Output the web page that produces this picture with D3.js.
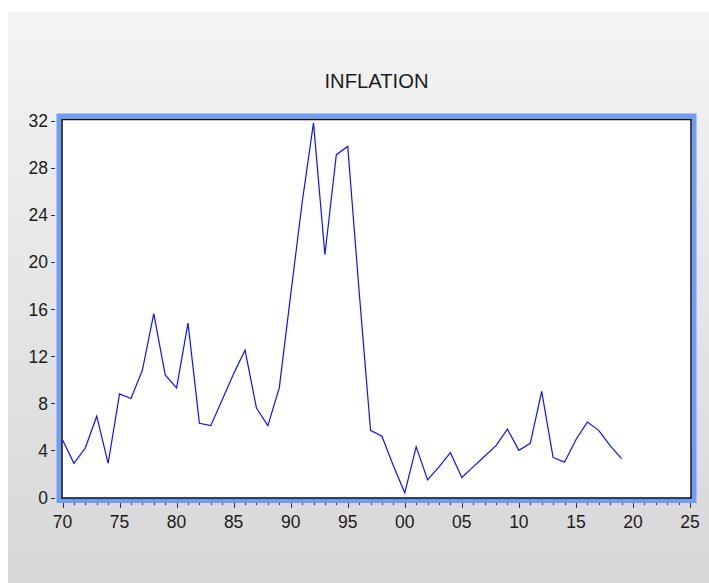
<!DOCTYPE html>
<html>
<head>
<meta charset="utf-8">
<script src="https://cdn.jsdelivr.net/npm/d3@7"></script>
<style>
  body { margin: 0; background: #fff; }
  svg { display: block; }
</style>
</head>
<body>
<div id="chart"></div>
<script>
// annual inflation, 1970 - 2019
const years = d3.range(1970, 2020);
const inflation = [
  4.9, 2.9, 4.2, 6.9, 2.9, 8.8, 8.4, 10.8, 15.6, 10.4,
  9.3, 14.8, 6.3, 6.1, 8.3, 10.5, 12.5, 7.6, 6.1, 9.3,
  17.2, 25.0, 31.8, 20.6, 29.1, 29.8, 17.5, 5.7, 5.2, 2.7,
  0.4, 4.3, 1.5, 2.6, 3.8, 1.7, 2.6, 3.5, 4.4, 5.8,
  4.0, 4.6, 9.0, 3.4, 3.0, 4.9, 6.4, 5.7, 4.4, 3.3
];
const yTicks = [0, 4, 8, 12, 16, 20, 24, 28, 32];
const xTicks = d3.range(1970, 2026, 5);
const title = "INFLATION";

const width = 709, height = 583;
const font = "'Liberation Sans', Arial, sans-serif";

const svg = d3.select("#chart").append("svg")
  .attr("width", width).attr("height", height);

// grey panel background
const grad = svg.append("defs").append("linearGradient")
  .attr("id", "bg").attr("x1", 0).attr("y1", 0).attr("x2", 0).attr("y2", 1);
grad.append("stop").attr("offset", "0%").attr("stop-color", "#f4f4f4");
grad.append("stop").attr("offset", "100%").attr("stop-color", "#d7d7d7");
svg.append("rect")
  .attr("x", 8).attr("y", 12)
  .attr("width", width - 8).attr("height", height - 12)
  .attr("fill", "url(#bg)");

// plot area
const pLeft = 62, pRight = 691, pTop = 120, pBottom = 497.5;

const x = d3.scaleLinear().domain([1970, 2025]).range([pLeft + 0.5, pRight - 1]);
const y = d3.scaleLinear().domain([0, 32]).range([pBottom, pTop + 0.5]);

// light blue frame, then white plot with black border
svg.append("rect")
  .attr("x", pLeft - 3).attr("y", pTop - 4)
  .attr("width", pRight - pLeft + 6).attr("height", pBottom - pTop + 7)
  .attr("fill", "none").attr("stroke", "#6f9ef8").attr("stroke-width", 5);
svg.append("rect")
  .attr("x", pLeft).attr("y", pTop - 0.5)
  .attr("width", pRight - pLeft).attr("height", pBottom - pTop + 1)
  .attr("fill", "#fff").attr("stroke", "#111").attr("stroke-width", 1.5);

// y axis ticks + labels
const gy = svg.append("g");
gy.selectAll("line").data(yTicks).join("line")
  .attr("x1", 51).attr("x2", 55)
  .attr("y1", d => Math.round(y(d)) + 0.5).attr("y2", d => Math.round(y(d)) + 0.5)
  .attr("stroke", "#333").attr("stroke-width", 1);
gy.selectAll("text").data(yTicks).join("text")
  .attr("x", 48).attr("y", d => y(d) + 6.5)
  .attr("text-anchor", "end")
  .attr("font-family", font).attr("font-size", 17.5)
  .attr("fill", "#1c1c1c")
  .text(d => d);

// x axis: major ticks every 5 years, minor dots every year
const gx = svg.append("g");
gx.selectAll("line.minor").data(d3.range(1970, 2026).filter(d => d % 5 !== 0)).join("line")
  .attr("class", "minor")
  .attr("x1", d => Math.round(x(d)) + 0.5).attr("x2", d => Math.round(x(d)) + 0.5)
  .attr("y1", 503).attr("y2", 505)
  .attr("stroke", "#333");
gx.selectAll("line.major").data(xTicks).join("line")
  .attr("class", "major")
  .attr("x1", d => Math.round(x(d)) + 0.5).attr("x2", d => Math.round(x(d)) + 0.5)
  .attr("y1", 503).attr("y2", 508)
  .attr("stroke", "#333");
gx.selectAll("text").data(xTicks).join("text")
  .attr("x", d => x(d)).attr("y", 528)
  .attr("text-anchor", "middle")
  .attr("font-family", font).attr("font-size", 17.5)
  .attr("fill", "#1c1c1c")
  .text(d => String(d % 100).padStart(2, "0"));

// the series
const line = d3.line()
  .x((d, i) => x(years[i]))
  .y(d => y(d));
svg.append("path")
  .datum(inflation)
  .attr("d", line)
  .attr("fill", "none")
  .attr("stroke", "#1010ff")
  .attr("stroke-width", 1.2);

// title
svg.append("text")
  .attr("x", (pLeft + pRight) / 2).attr("y", 88)
  .attr("text-anchor", "middle")
  .attr("font-family", font).attr("font-size", 21)
  .attr("textLength", 104).attr("lengthAdjust", "spacingAndGlyphs")
  .attr("fill", "#1c1c1c")
  .text(title);
</script>
</body>
</html>
